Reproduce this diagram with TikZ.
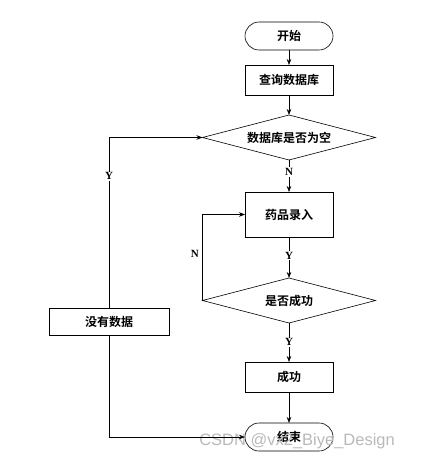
\documentclass[tikz,border=0pt]{standalone}
\usepackage{fontspec}
\setmainfont{Liberation Serif}
\newfontfamily\cjk[BoldFont={Noto Sans CJK SC Bold}]{Noto Sans CJK SC}
\newfontfamily\markfont{Liberation Sans}
\usetikzlibrary{shapes.geometric, shapes.misc, arrows.meta, positioning}

\tikzset{
  box/.style={draw, rectangle, minimum width=88pt, minimum height=30pt, inner sep=0pt, outer sep=0pt,
    font=\cjk\bfseries\fontsize{12}{12}\selectfont},
  term/.style={box, rounded rectangle, minimum height=28pt},
  decision/.style={box, diamond, aspect=3.8, minimum width=173pt, minimum height=45pt},
  yn/.style={fill=white, inner sep=1pt, font=\bfseries\fontsize{11}{11}\selectfont},
  flow/.style={draw, -{Stealth[length=6pt,width=4.5pt]}}
}

\begin{document}
\begin{tikzpicture}[x=1pt, y=-1pt, line width=0.6pt]
    \useasboundingbox (0,0) rectangle (431,462);
    	\node[term] (start) at (289,36) {开始};
    	\node[box] (query) [below=15pt of start] {查询数据库};
    	\node[decision] (empty) [below=20pt of query] {数据库是否为空};
    	\node[box, minimum height=45pt] (entry) [below=32pt of empty] {药品录入};
    	\node[decision] (ok) [below=41pt of entry] {是否成功};
    	\node[box] (done) [below=39pt of ok] {成功};
    	\node[term] (finish) [below=31pt of done] {结束};
    	\node[box, minimum width=120pt, minimum height=27pt] (nodata) at (109,322) {没有数据};
    %	watermark
    	\node[font=\markfont\fontsize{16.5}{16.5}\selectfont, text=gray!55, anchor=west, inner sep=0pt] (mark) at (199,441) {CSDN @vx2\_Biye\_Design};

    	\path[flow]
      (start) edge (query)
      (query) edge (empty)
      (empty) edge node[yn, pos=0.375]{N} (entry)
      (entry) edge node[yn, pos=0.46]{Y} (ok)
      (ok) edge node[yn, pos=0.49]{Y} (done)
      (done) edge (finish);
    	\draw[flow] (ok.west) |- node[pos=0.27, anchor=east, font=\bfseries\fontsize{11}{11}\selectfont]{N} (entry.west);
    	\draw[flow] (nodata.north) |- node[yn, pos=0.387]{Y} (empty.west);
    	\draw[flow] (nodata.south) |- (finish.west);
    \end{tikzpicture}
\end{document}
